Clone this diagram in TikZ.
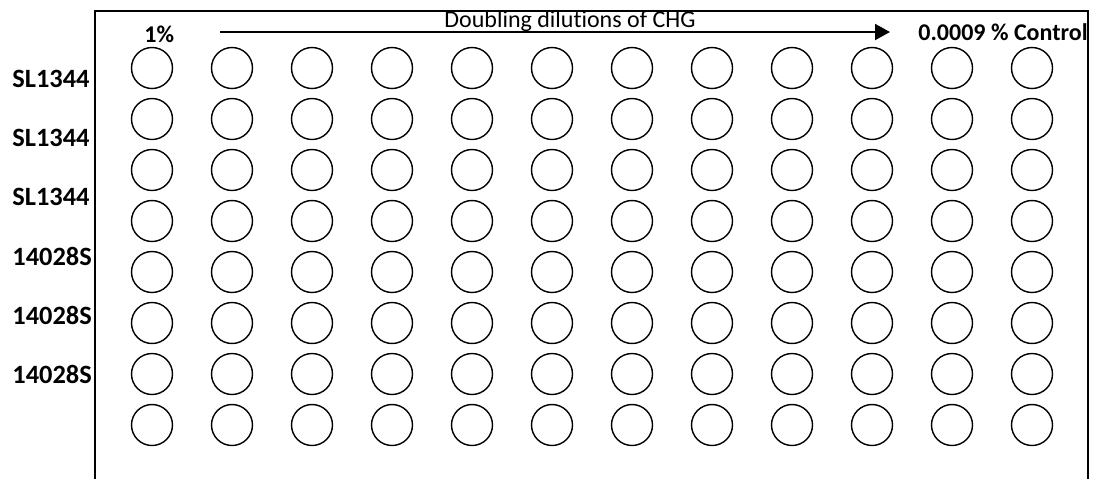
\documentclass[tikz,border=0pt]{standalone}
\usepackage{fontspec}
\setmainfont{Carlito}[Ligatures={TeX,CommonOff}]
\usetikzlibrary{arrows.meta,positioning}

\begin{document}
\begin{tikzpicture}[x=0.5pt,y=-0.5pt]
\tikzset{
  well/.style={draw,circle,minimum size=20.5pt,inner sep=0pt,line width=0.7pt},
  strain/.style={font=\fontsize{13.2}{15}\selectfont\bfseries,anchor=base west,inner sep=0pt},
  conc/.style={font=\fontsize{12}{14}\selectfont\bfseries,anchor=base west,inner sep=0pt},
  arr/.style={-{Triangle[length=7.5pt,width=8pt]},line width=1pt}
}
\useasboundingbox (0,0) rectangle (1093,479);
% plate frame, open at the bottom
\draw[line width=1pt] (95,479) -- (95,11) -- (1088,11) -- (1088,479);
% dilution header
\node(hi)[conc] at (144,42) {1\%};
\node(lo)[conc] at (918,40) {0.0009 \% Control};
\node(dil)[anchor=base west,inner sep=0pt,font=\fontsize{12}{14}\selectfont] at (444,27.5) {Doubling dilutions of CHG};
\coordinate (as) at (220,32);
\coordinate (ae) at (890,32);
\draw[arr](as)--(ae);
% strains
\node(s1)[strain] at (12,87.5) {SL1344};
\node(s2)[strain] at (12,146.7) {SL1344};
\node(s3)[strain] at (12,205.9) {SL1344};
\node(s4)[strain] at (12,265.1) {14028S};
\node(s5)[strain] at (12,324.3) {14028S};
\node(s6)[strain] at (12,383.5) {14028S};
% wells
\foreach \r in {1,...,8}
  \foreach \c in {1,...,12}
    \node(w\r-\c)[well] at ({152+80*(\c-1)},{68+51*(\r-1)}) {};
\end{tikzpicture}
\end{document}
